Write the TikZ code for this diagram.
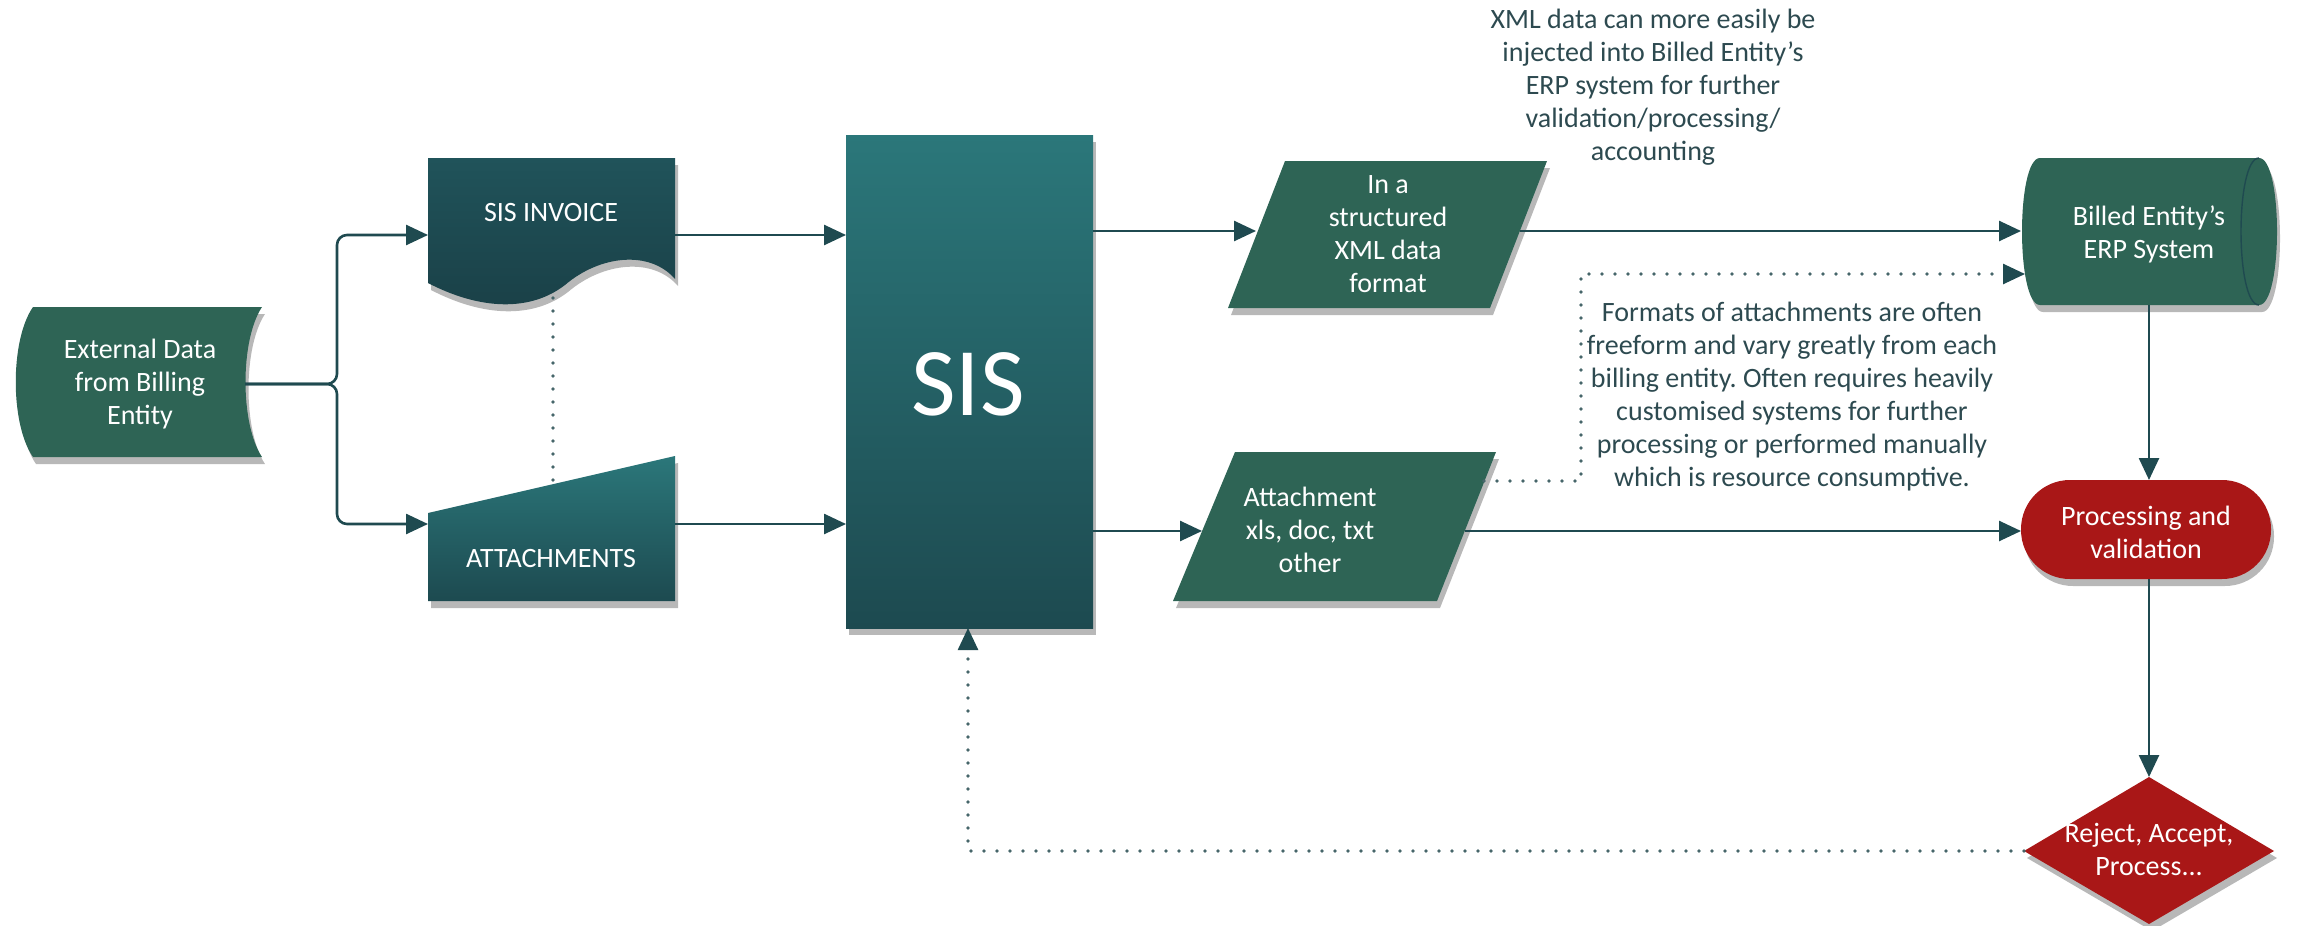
\documentclass[tikz,border=0pt]{standalone}
\usepackage{fontspec}
\setmainfont{Carlito}
\usetikzlibrary{arrows.meta,shadows}
\definecolor{lineC}{HTML}{1F4A50}
\definecolor{greenF}{HTML}{2E6455}
\definecolor{tealTop}{HTML}{2B777A}
\definecolor{tealBot}{HTML}{1D4A50}
\definecolor{docTop}{HTML}{20535A}
\definecolor{docBot}{HTML}{1A4047}
\definecolor{redF}{HTML}{A91717}
\definecolor{dotC}{HTML}{46666A}
\definecolor{noteC}{HTML}{2D4A50}
\frenchspacing
\begin{document}
\begin{tikzpicture}[x=1pt,y=-1pt,
  conn/.style={draw=lineC, line width=2.6pt, -{Triangle[length=22pt,width=20pt]}},
  plain/.style={draw=lineC, line width=2.6pt},
  dots/.style={draw=dotC, line width=3.6pt, line cap=round, dash pattern=on 0pt off 13pt},
  shapeshadow/.style={drop shadow={shadow xshift=3pt, shadow yshift=-7pt, fill=black, opacity=0.28}},
  boxtext/.style={text=white, font=\fontsize{28}{33}\selectfont, align=center, inner sep=0pt},
  note/.style={text=noteC, font=\fontsize{28}{33}\selectfont, align=center, inner sep=0pt}]
\useasboundingbox (0,0) rectangle (2300,926);

% External Data (stored data shape)
\fill[greenF, shapeshadow] (33,307) -- (262,307) .. controls (240,340) and (240,424) .. (262,457)
  -- (33,457) .. controls (10,424) and (10,340) .. (33,307) -- cycle;
\node[boxtext] (ext) at (140,384) {External Data\\from Billing\\Entity};

% SIS INVOICE (document shape)
\path[top color=docTop, bottom color=docBot, shapeshadow] (428,158) -- (675,158) -- (675,279)
  .. controls (650,250) and (600,255) .. (565,285)
  .. controls (530,312) and (480,310) .. (428,283) -- cycle;
\node[boxtext] (inv) at (551,213) {SIS INVOICE};

% ATTACHMENTS (manual input shape)
\path[top color=tealTop, bottom color=tealBot, shapeshadow] (428,513) -- (675,456) -- (675,601) -- (428,601) -- cycle;
\node[boxtext] (att) at (551,559) {ATTACHMENTS};

% SIS
\path[top color=tealTop, bottom color=tealBot, shapeshadow] (846,135) rectangle (1093,628);
\node[text=white, font=\fontsize{97}{100}\selectfont, inner sep=0pt] (sis) at (968,384) {SIS};

% XML parallelogram
\fill[greenF, shapeshadow] (1285,161) -- (1547,161) -- (1490,308) -- (1228,308) -- cycle;
\node[boxtext] (xml) at (1388,234) {In a\\structured\\XML data\\format};

% Attachment parallelogram
\fill[greenF, shapeshadow] (1235,452) -- (1496,452) -- (1437,601) -- (1173,601) -- cycle;
\node[boxtext] (atf) at (1310,530) {Attachment\\xls, doc, txt\\other};

% ERP cylinder
\fill[greenF, shapeshadow] (2040,158) -- (2259,158) .. controls (2283,158) and (2283,305) .. (2259,305)
  -- (2040,305) .. controls (2016,305) and (2016,158) .. (2040,158) -- cycle;
\draw[lineC, line width=1.4pt] (2259,158) .. controls (2235,158) and (2235,305) .. (2259,305);
\node[boxtext] (erp) at (2149,234) {Billed Entity's\\ERP System};

% Processing and validation
\fill[redF, shapeshadow, rounded corners=49pt] (2021,480) rectangle (2271,579);
\node[boxtext] (proc) at (2146,532) {Processing and\\validation};

% Decision diamond
\fill[redF, shapeshadow] (2149,777) -- (2274,851) -- (2149,924) -- (2024,851) -- cycle;
\node[boxtext] (dec) at (2149,849) {Reject, Accept,\\Process...};

% Notes
\node[note] (note1) at (1653,87) {XML data can more easily be\\injected into Billed Entity's\\ERP system for further\\validation/processing/\\accounting};
\node[note] (note2) at (1792,397) {Formats of attachments are often\\freeform and vary greatly from each\\billing entity. Often requires heavily\\customised systems for further\\processing or performed manually\\which is resource consumptive.};

% connector coordinates
\coordinate (extR) at (245,384);
\coordinate (jn) at (337,384);
\coordinate (invL) at (428,235);
\coordinate (attL) at (428,524);
\coordinate (invR) at (675,235);
\coordinate (attR) at (675,524);
\coordinate (sisL1) at (846,235);
\coordinate (sisL2) at (846,524);
\coordinate (sisR1) at (1093,231);
\coordinate (sisR2) at (1093,531);
\coordinate (sisB) at (968,628);
\coordinate (sisBtip) at (968,650);
\coordinate (xmlL) at (1256,231);
\coordinate (xmlR) at (1520,231);
\coordinate (atfL) at (1202,531);
\coordinate (atfR) at (1465,531);
\coordinate (atfR2) at (1484,481);
\coordinate (bend) at (1581,481);
\coordinate (erpL) at (2021,231);
\coordinate (erpL2) at (2025,274);
\coordinate (erpL2tip) at (2003,274);
\coordinate (erpB) at (2149,305);
\coordinate (procL) at (2021,531);
\coordinate (procT) at (2149,480);
\coordinate (procB) at (2149,579);
\coordinate (decT) at (2149,777);
\coordinate (decL) at (2024,851);
\coordinate (invB) at (553,298);
\coordinate (attT) at (553,484);

% connectors
\draw[conn, rounded corners=10pt] (extR) -- (jn) |- (invL);
\draw[conn, rounded corners=10pt] (extR) -- (jn) |- (attL);
\draw[conn] (invR) -- (sisL1);
\draw[conn] (attR) -- (sisL2);
\draw[conn] (sisR1) -- (xmlL);
\draw[conn] (sisR2) -- (atfL);
\draw[conn] (xmlR) -- (erpL);
\draw[conn] (atfR) -- (procL);
\draw[conn] (erpB) -- (procT);
\draw[conn] (procB) -- (decT);
\draw[dots] (invB) -- (attT);
\draw[dots] (atfR2) -- (bend) |- (erpL2tip);
\draw[conn] (erpL2tip) -- (erpL2);
\draw[dots] (decL) -| (sisBtip);
\draw[conn] (sisBtip) -- (sisB);
\end{tikzpicture}
\end{document}
